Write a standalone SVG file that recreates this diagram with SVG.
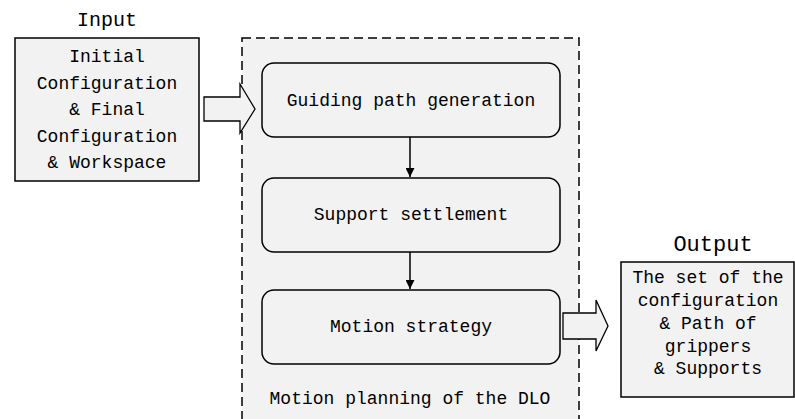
<svg xmlns="http://www.w3.org/2000/svg" width="795" height="419" viewBox="0 0 795 419">
<style>
text{font-family:"Liberation Mono","DejaVu Sans Mono",monospace;fill:#000;text-anchor:middle;dominant-baseline:central}
.t{font-size:18px}
.box{fill:#f2f2f2;stroke:#000;stroke-width:1.5}
.hollow{fill:#f2f2f2;stroke:#000;stroke-width:1.3;stroke-linejoin:miter}
.con{stroke:#000;stroke-width:1.5;fill:none}
</style>
<defs>
<marker id="ah" viewBox="0 0 10 10" refX="10" refY="5" markerWidth="9" markerHeight="9" markerUnits="userSpaceOnUse" orient="auto">
<path d="M0,0 L10,5 L0,10 Z" fill="#000"/>
</marker>
</defs>
<rect width="795" height="419" fill="#fff"/>
<g id="container">
<rect x="242" y="38" width="337" height="400" fill="#f2f2f2" stroke="#000" stroke-width="1.5" stroke-dasharray="9,5"/>
<text class="t" x="410" y="399">Motion planning of the DLO</text>
</g>
<g id="input">
<text x="107" y="20" style="font-size:20px">Input</text>
<rect class="box" x="15" y="38" width="184" height="143"/>
<text class="t" x="107" y="57">Initial</text>
<text class="t" x="107" y="84">Configuration</text>
<text class="t" x="107" y="110">&amp; Final</text>
<text class="t" x="107" y="137">Configuration</text>
<text class="t" x="107" y="163">&amp; Workspace</text>
</g>
<g id="output">
<text x="713" y="245" style="font-size:22px">Output</text>
<rect class="box" x="621" y="262" width="173" height="135"/>
<text class="t" x="708" y="278">The set of the</text>
<text class="t" x="708" y="301">configuration</text>
<text class="t" x="708" y="324">&amp; Path of</text>
<text class="t" x="708" y="347">grippers</text>
<text class="t" x="708" y="369">&amp; Supports</text>
</g>
<g id="guiding">
<rect class="box" x="262" y="63" width="298" height="74" rx="12"/>
<text class="t" x="411" y="101">Guiding path generation</text>
</g>
<g id="support">
<rect class="box" x="262" y="178" width="298" height="74" rx="12"/>
<text class="t" x="411" y="215">Support settlement</text>
</g>
<g id="motion">
<rect class="box" x="262" y="290" width="298" height="74" rx="12"/>
<text class="t" x="411" y="327">Motion strategy</text>
</g>
<g id="connectors">
<path class="hollow" d="M204,97 H240 V84 L255,109 L240,133 V121 H204 Z"/>
<path class="hollow" d="M563,313 H596 V300 L608,326 L596,351 V339 H563 Z"/>
<line class="con" x1="410" y1="137" x2="410" y2="177" marker-end="url(#ah)"/>
<line class="con" x1="410" y1="252" x2="410" y2="289" marker-end="url(#ah)"/>
</g>
</svg>
